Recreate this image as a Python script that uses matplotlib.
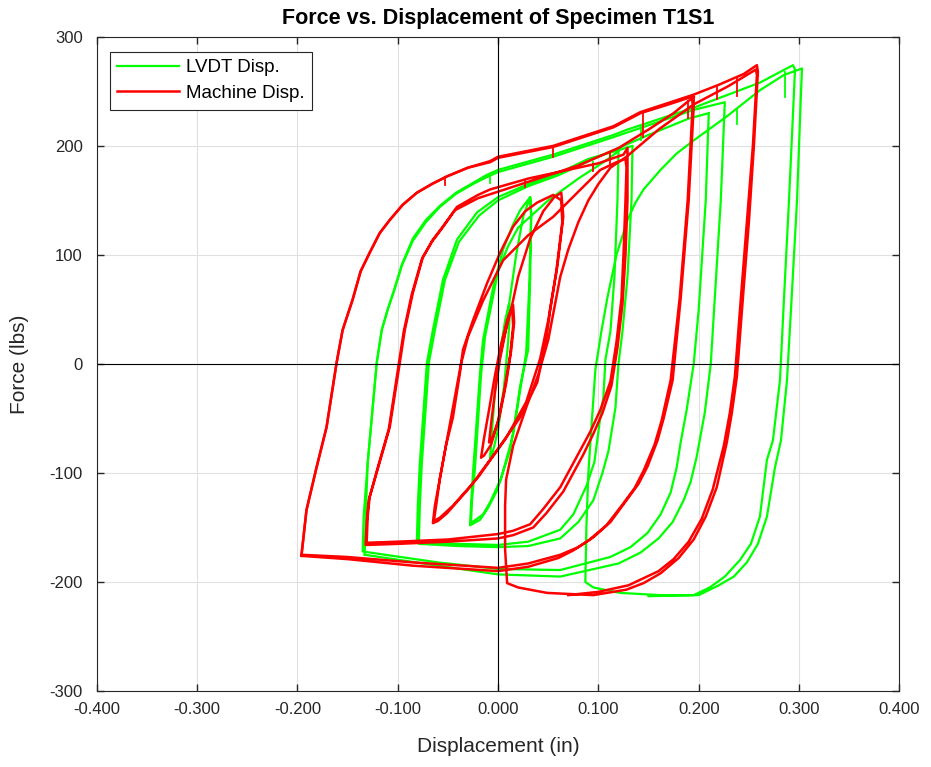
import matplotlib
matplotlib.use("Agg")
from matplotlib import pyplot as plt
import numpy as np

# ---- data (disp in inches, force in lbs) ----
# Machine displacement, one list of (disp, force) per stage of the test
red_tiny = [(0.000, 0), (0.006, 25), (0.011, 45), (0.015, 54), (0.016, 38), (0.013, 12),
            (0.008, -18), (0.001, -50), (-0.007, -74), (-0.014, -84), (-0.017, -86),
            (-0.014, -68), (-0.009, -42), (-0.003, -10), (0.003, 18), (0.009, 40),
            (0.014, 52), (0.015, 35), (0.012, 8), (0.006, -25), (0.000, -52),
            (-0.005, -66), (-0.009, -72), (-0.007, -55), (-0.003, -25), (0.002, 5),
            (0.008, 32), (0.013, 50)]
red_b = [(0.013, 50), (0.020, 80), (0.032, 115), (0.045, 140), (0.056, 153), (0.063, 157),
         (0.065, 135), (0.059, 89), (0.052, 50), (0.048, 22), (0.039, -17), (0.022, -49),
         (-0.001, -79), (-0.028, -113), (-0.051, -137), (-0.060, -144), (-0.065, -146),
         (-0.063, -130), (-0.060, -115), (-0.052, -75), (-0.045, -49), (-0.038, -8),
         (-0.035, 13), (-0.025, 40), (-0.011, 74), (0.002, 102), (0.015, 126), (0.027, 140),
         (0.039, 148), (0.055, 155), (0.063, 150),
         (0.064, 130), (0.058, 85), (0.050, 40), (0.042, 5), (0.028, -35), (0.008, -68),
         (-0.020, -104), (-0.045, -130), (-0.058, -141), (-0.064, -144),
         (-0.061, -125), (-0.058, -105), (-0.050, -65), (-0.043, -30), (-0.037, 0),
         (-0.030, 25), (-0.015, 58), (0.005, 95), (0.030, 118), (0.055, 135),
         (0.080, 158), (0.102, 178), (0.118, 185), (0.127, 188)]
red_c = [(0.127, 188), (0.128, 180), (0.127, 150), (0.125, 100), (0.123, 60), (0.118, 20),
         (0.112, -16), (0.102, -42), (0.092, -62), (0.082, -79), (0.062, -113),
         (0.045, -133), (0.032, -147), (0.015, -153), (0.000, -156), (-0.050, -161),
         (-0.100, -163), (-0.131, -164),
         (-0.130, -140), (-0.128, -122), (-0.118, -90), (-0.108, -58), (-0.098, 1),
         (-0.093, 31), (-0.085, 65), (-0.075, 98), (-0.065, 114), (-0.055, 126),
         (-0.041, 144), (-0.020, 155), (-0.008, 160), (0.030, 170), (0.070, 178),
         (0.100, 184), (0.125, 192), (0.129, 198),
         (0.129, 150), (0.127, 100), (0.124, 55), (0.119, 15), (0.113, -20), (0.104, -45),
         (0.095, -64), (0.085, -83), (0.065, -117), (0.048, -137), (0.035, -150),
         (0.015, -157), (0.000, -160), (-0.050, -163), (-0.100, -165), (-0.132, -166),
         (-0.131, -145), (-0.129, -125), (-0.119, -92), (-0.109, -60), (-0.099, 0),
         (-0.094, 30), (-0.086, 64), (-0.076, 96), (-0.066, 112), (-0.057, 123),
         (-0.043, 141), (-0.020, 152), (0.000, 158), (0.040, 170), (0.080, 182),
         (0.120, 198), (0.150, 215), (0.175, 230), (0.195, 245)]
red_d = [(0.195, 245), (0.195, 236), (0.190, 150), (0.182, 60), (0.174, -15), (0.165, -50),
         (0.159, -70), (0.149, -94), (0.140, -110), (0.128, -125), (0.112, -145),
         (0.095, -159), (0.080, -168), (0.062, -175), (0.030, -183), (0.000, -187),
         (-0.085, -182), (-0.151, -177), (-0.196, -175),
         (-0.191, -134), (-0.181, -95), (-0.171, -58), (-0.161, 1), (-0.155, 31),
         (-0.145, 59), (-0.137, 85), (-0.128, 102), (-0.118, 120), (-0.108, 132),
         (-0.095, 146), (-0.081, 157), (-0.066, 165), (-0.051, 172), (-0.030, 180),
         (-0.008, 185), (0.000, 189), (0.055, 199), (0.115, 217), (0.142, 230),
         (0.170, 238), (0.193, 245),
         (0.194, 238), (0.189, 150), (0.181, 60), (0.172, -15), (0.163, -52), (0.156, -74),
         (0.145, -98), (0.136, -114), (0.124, -129), (0.108, -148), (0.090, -162),
         (0.075, -171), (0.060, -178), (0.030, -186), (0.000, -190), (-0.085, -185),
         (-0.150, -179), (-0.196, -176)]
red_e = [(-0.196, -176), (-0.191, -134), (-0.181, -95), (-0.171, -58), (-0.161, 1),
         (-0.155, 31), (-0.145, 59), (-0.137, 85), (-0.128, 102), (-0.118, 120),
         (-0.108, 132), (-0.095, 146), (-0.081, 157), (-0.066, 165), (-0.051, 172),
         (-0.030, 180), (-0.008, 186), (0.000, 190), (0.055, 200), (0.115, 218),
         (0.142, 231), (0.195, 247), (0.220, 256), (0.245, 266), (0.258, 274),
         (0.259, 268), (0.255, 200), (0.250, 130), (0.244, 60), (0.238, -12), (0.233, -45),
         (0.228, -72), (0.218, -113), (0.207, -140), (0.195, -161), (0.180, -178),
         (0.162, -192), (0.145, -201), (0.128, -207), (0.095, -212), (0.049, -210),
         (0.020, -205), (0.009, -201),
         (0.007, -170), (0.007, -130), (0.008, -106), (0.015, -75), (0.028, -40),
         (0.040, -10), (0.050, 22), (0.062, 80), (0.070, 105), (0.080, 130), (0.090, 150),
         (0.100, 165), (0.112, 180), (0.128, 190), (0.160, 215), (0.195, 238),
         (0.230, 255), (0.257, 270),
         (0.258, 265), (0.254, 200), (0.248, 130), (0.242, 60), (0.236, -12), (0.231, -45),
         (0.225, -75), (0.214, -115), (0.203, -142), (0.190, -163), (0.175, -179),
         (0.160, -190), (0.130, -203), (0.100, -209), (0.070, -212)]

# LVDT displacement
green_tiny = [(0.000, 0), (0.006, 30), (0.011, 55), (0.012, 50), (0.010, 20), (0.006, -20),
              (0.000, -60), (-0.005, -80), (-0.008, -86), (-0.006, -60), (-0.003, -25),
              (0.002, 10), (0.007, 40), (0.011, 55)]
green_b = [(0.011, 55), (0.018, 100), (0.025, 135), (0.032, 153),
           (0.033, 140), (0.032, 80), (0.030, 13), (0.022, -20), (0.019, -39), (0.012, -79),
           (-0.001, -116), (-0.010, -132), (-0.018, -143), (-0.028, -148),
           (-0.027, -130), (-0.025, -100), (-0.018, -8), (-0.015, 22), (-0.005, 70),
           (0.005, 105), (0.014, 126), (0.022, 141), (0.032, 153),
           (0.033, 135), (0.031, 70), (0.028, 10), (0.021, -30), (0.015, -65),
           (0.003, -105), (-0.008, -127), (-0.015, -138), (-0.027, -146),
           (-0.026, -125), (-0.023, -95), (-0.017, -10), (-0.013, 25), (0.000, 85),
           (0.010, 108), (0.020, 125), (0.050, 150), (0.080, 170), (0.105, 185),
           (0.120, 195)]
green_c = [(0.120, 195), (0.119, 150), (0.116, 80), (0.112, 30), (0.107, 4), (0.105, -30),
           (0.101, -55), (0.096, -90), (0.088, -112), (0.075, -138), (0.062, -152),
           (0.030, -163), (0.000, -166), (-0.040, -165), (-0.081, -163),
           (-0.080, -130), (-0.078, -91), (-0.071, 1), (-0.065, 31), (-0.055, 77),
           (-0.041, 114), (-0.021, 139), (0.000, 153), (0.030, 165), (0.060, 175),
           (0.090, 188), (0.120, 196), (0.134, 200),
           (0.133, 150), (0.129, 80), (0.124, 30), (0.120, 0), (0.117, -40), (0.110, -80),
           (0.104, -100), (0.095, -125), (0.080, -145), (0.062, -160), (0.030, -167),
           (0.000, -168), (-0.040, -167), (-0.079, -165),
           (-0.078, -130), (-0.076, -91), (-0.069, 1), (-0.063, 31), (-0.053, 77),
           (-0.039, 112), (-0.019, 136), (0.000, 150), (0.030, 163), (0.060, 173),
           (0.100, 190), (0.150, 210), (0.190, 225), (0.210, 230)]
green_d = [(0.210, 230), (0.207, 150), (0.200, 50), (0.195, 0), (0.188, -42), (0.182, -72),
           (0.178, -95), (0.172, -118), (0.162, -138), (0.149, -155), (0.132, -168),
           (0.112, -177), (0.062, -189), (0.000, -188), (-0.060, -182), (-0.135, -172),
           (-0.134, -140), (-0.130, -91), (-0.121, 1), (-0.116, 31), (-0.110, 50),
           (-0.104, 66), (-0.096, 90), (-0.085, 113), (-0.072, 130), (-0.058, 144),
           (-0.042, 156), (-0.025, 165), (-0.012, 171), (0.000, 176), (0.055, 190),
           (0.115, 208), (0.160, 222), (0.195, 233), (0.226, 240),
           (0.222, 150), (0.216, 60), (0.212, 0), (0.206, -45), (0.198, -85),
           (0.192, -108), (0.185, -125), (0.174, -145), (0.160, -160), (0.142, -173),
           (0.120, -183), (0.062, -195), (0.000, -193), (-0.060, -185), (-0.133, -175)]
green_e = [(-0.133, -175), (-0.132, -140), (-0.130, -91), (-0.121, 1), (-0.116, 31),
           (-0.110, 50), (-0.104, 67), (-0.096, 91), (-0.085, 115), (-0.072, 132),
           (-0.058, 145), (-0.042, 157), (-0.025, 166), (-0.012, 173), (0.000, 178),
           (0.055, 192), (0.115, 210), (0.129, 215), (0.195, 235), (0.261, 258),
           (0.294, 274),
           (0.296, 270), (0.290, 150), (0.285, 60), (0.281, -15), (0.274, -70),
           (0.268, -88), (0.261, -140), (0.252, -165), (0.241, -180), (0.226, -195),
           (0.211, -205), (0.195, -212), (0.162, -212), (0.122, -210), (0.095, -205),
           (0.087, -200),
           (0.088, -150), (0.090, -100), (0.092, -72), (0.097, -5), (0.103, 30),
           (0.109, 61), (0.118, 100), (0.129, 132), (0.137, 148), (0.145, 160),
           (0.162, 178), (0.178, 193), (0.195, 205), (0.228, 227), (0.261, 251),
           (0.285, 265), (0.303, 271),
           (0.302, 250), (0.298, 150), (0.292, 50), (0.288, -15), (0.282, -70),
           (0.276, -95), (0.268, -140), (0.259, -165), (0.248, -182), (0.235, -195),
           (0.220, -203), (0.200, -212), (0.150, -213)]

# short downward spikes hanging from the upper plateaus: (disp, force top, force bottom)
red_spikes = [(-0.053, 171, 164), (0.027, 169, 162), (0.055, 199, 190), (0.095, 183, 177),
              (0.112, 194, 183), (0.144, 231, 208), (0.189, 241, 226), (0.218, 255, 243),
              (0.238, 263, 246)]
green_spikes = [(-0.008, 173, 166), (0.095, 185, 178), (0.142, 219, 205),
                (0.238, 233, 220), (0.286, 268, 245)]

red_parts = [red_tiny, red_b, red_c, red_d, red_e]
green_parts = [green_tiny, green_b, green_c, green_d, green_e]

plt.rcParams['font.family'] = ['Liberation Sans', 'DejaVu Sans']
plt.rcParams['axes.unicode_minus'] = False

fig = plt.figure(figsize=(9.31, 7.67), dpi=100)
ax = fig.add_axes([0.104, 0.099, 0.862, 0.853])

# green first, red drawn over it
for i, part in enumerate(green_parts):
    p = np.array(part)
    ax.plot(p[:, 0], p[:, 1], color='#00ff00', lw=1.6, solid_joinstyle='round',
            label='LVDT Disp.' if i == 0 else None)
for s in green_spikes:
    ax.plot([s[0], s[0]], [s[1], s[2]], color='#00ff00', lw=1.3)
for i, part in enumerate(red_parts):
    p = np.array(part)
    ax.plot(p[:, 0], p[:, 1], color='#ff0000', lw=1.8, solid_joinstyle='round',
            label='Machine Disp.' if i == 0 else None)
for s in red_spikes:
    ax.plot([s[0], s[0]], [s[1], s[2]], color='#ff0000', lw=1.3)

ax.axhline(0, color='black', lw=0.8)
ax.axvline(0, color='black', lw=0.8)

xt = np.round(np.arange(-0.4, 0.401, 0.1), 3)
ax.set_xlim(-0.4, 0.4)
ax.set_ylim(-300, 300)
ax.set_xticks(xt)
ax.set_xticklabels(['%.3f' % (v + 0.0) for v in xt])
ax.set_yticks(np.arange(-300, 301, 100))
ax.grid(True, color='#e0e0e0', lw=0.8)
ax.set_axisbelow(True)
ax.tick_params(direction='in', top=True, right=True, length=5, width=1,
               labelsize=12, colors='#262626')
ax.tick_params(axis='x', pad=8)
ax.tick_params(axis='y', pad=10)
for sp in ax.spines.values():
    sp.set_color('#262626')
    sp.set_linewidth(0.8)

ax.set_title('Force vs. Displacement of Specimen T1S1', fontsize=15.5,
             fontweight='bold', pad=9)
ax.set_xlabel('Displacement (in)', fontsize=15, color='#262626')
ax.set_ylabel('Force (lbs)', fontsize=15, color='#262626')
ax.xaxis.set_label_coords(0.5, -0.07)
ax.yaxis.set_label_coords(-0.084, 0.5)

leg = ax.legend(loc='upper left', fontsize=13.5, fancybox=False, framealpha=1,
                edgecolor='#262626', borderpad=0.4, handlelength=3.3,
                labelspacing=0.45, handletextpad=0.35, borderaxespad=0,
                bbox_to_anchor=(0.016, 0.977))
leg.get_frame().set_linewidth(0.8)

fig.savefig('out.png', dpi=100)
